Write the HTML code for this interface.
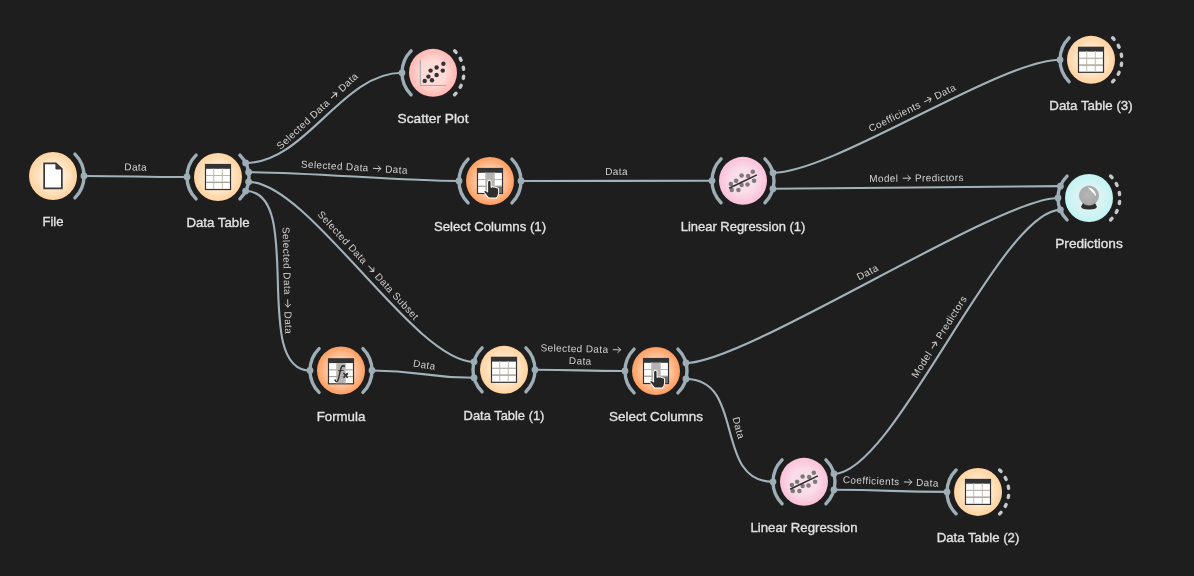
<!DOCTYPE html><html><head><meta charset="utf-8"><style>
html,body{margin:0;padding:0;background:#1e1e1e;width:1194px;height:576px;overflow:hidden}
svg{display:block;will-change:transform}
text{font-family:"Liberation Sans",sans-serif}
</style></head><body>
<svg width="1194" height="576" viewBox="0 0 1194 576">
<defs>
<radialGradient id="g_data" cx="0.5" cy="0.5" r="0.5"><stop offset="0" stop-color="#FFE9CF"/><stop offset="0.5" stop-color="#FFE9CF"/><stop offset="1" stop-color="#FFD39F"/></radialGradient>
<radialGradient id="g_trans" cx="0.5" cy="0.5" r="0.5"><stop offset="0" stop-color="#FFCEAF"/><stop offset="0.5" stop-color="#FFCEAF"/><stop offset="1" stop-color="#FF9D5E"/></radialGradient>
<radialGradient id="g_vis" cx="0.5" cy="0.5" r="0.5"><stop offset="0" stop-color="#FFDBD8"/><stop offset="0.5" stop-color="#FFDBD8"/><stop offset="1" stop-color="#FFB7B1"/></radialGradient>
<radialGradient id="g_model" cx="0.5" cy="0.5" r="0.5"><stop offset="0" stop-color="#FADDE9"/><stop offset="0.5" stop-color="#FADDE9"/><stop offset="1" stop-color="#FAC1D9"/></radialGradient>
<radialGradient id="g_eval" cx="0.5" cy="0.5" r="0.5"><stop offset="0" stop-color="#DBF3F3"/><stop offset="0.5" stop-color="#DBF3F3"/><stop offset="1" stop-color="#C3F3F3"/></radialGradient>
<radialGradient id="ball" cx="0.45" cy="0.45" r="0.55"><stop offset="0" stop-color="#b6b6b6"/><stop offset="1" stop-color="#a8a8a8"/></radialGradient>
<g id="i_file"><path d="M-8.85,-12.55 L2.9,-12.55 L8.85,-7.1 L8.85,12.45 L-8.85,12.45 Z" fill="#fff" stroke="#3a3a3a" stroke-width="1.7" stroke-linejoin="miter"/>
<path d="M2.4,-13.2 L9.5,-6.6 L3.2,-6.6 Q2.4,-6.6 2.4,-7.4 Z" fill="#3a3a3a"/></g>
<g id="i_table"><rect x="-13.1" y="-13.1" width="26.2" height="26.2" fill="#333"/>
<rect x="-11.9" y="-8.2" width="23.8" height="20.1" fill="#fff"/>
<path d="M-4.4,-8.2V12M4.4,-8.2V12" stroke="#cdc7bd" stroke-width="1.1" fill="none"/>
<path d="M-11.9,-1.5H11.9" stroke="#bab5ad" stroke-width="1.0" fill="none"/>
<path d="M-11.9,5.3H11.9" stroke="#a6a29b" stroke-width="1.0" fill="none"/>
<path d="M-4.4,-8.2V12M4.4,-8.2V12" stroke="#cdc7bd" stroke-width="1.1" fill="none"/>
<path d="M-11.9,-1.5H11.9" stroke="#bab5ad" stroke-width="1.0" fill="none"/>
<path d="M-11.9,5.3H11.9" stroke="#a6a29b" stroke-width="1.0" fill="none"/></g>
<g id="i_select"><rect x="-13.1" y="-13.1" width="26.2" height="26.2" fill="#333"/>
<rect x="-11.9" y="-8.2" width="23.8" height="20.1" fill="#fff"/>
<rect x="-4.4" y="-8.2" width="8.8" height="20.1" fill="#b3b3b3"/>
<rect x="4.4" y="5.2" width="7.5" height="6.9" fill="#6e6e6e"/>
<path d="M-4.4,-8.2V12M4.4,-8.2V12" stroke="#cdc7bd" stroke-width="1.1" fill="none"/>
<path d="M-11.9,-1.5H11.9" stroke="#bab5ad" stroke-width="1.0" fill="none"/>
<path d="M-11.9,5.3H11.9" stroke="#a6a29b" stroke-width="1.0" fill="none"/>
<rect x="4.4" y="5.2" width="7.5" height="6.9" fill="#6e6e6e"/>
<path d="M-4.4,-8.2V12M4.4,-8.2V12" stroke="#cdc7bd" stroke-width="1.1" fill="none"/>
<path d="M-11.9,-1.5H11.9" stroke="#bab5ad" stroke-width="1.0" fill="none"/>
<path d="M-11.9,5.3H11.9" stroke="#a6a29b" stroke-width="1.0" fill="none"/>
<path d="M-2.2,1.2 Q-2.2,-0.8 -0.65,-0.8 Q0.9,-0.8 0.9,1.2 L0.9,5.6 Q2.2,4.6 3.4,5.4 Q4.8,4.8 5.6,6 Q7.6,5.8 7.6,7.8 L7.6,10.6 Q7.4,13.4 5.6,15 L-1.4,15 Q-3.4,12.4 -5.2,10.2 Q-6,8.8 -4.8,8.4 Q-3.6,8.2 -2.2,9.6 Z" fill="#2e2e2e" stroke="#fff" stroke-width="0.9" stroke-linejoin="round" transform="translate(-0.65,-0.8) scale(1.12) translate(0.65,0.8)"/></g>
<g id="i_formula"><g transform="translate(0,0.8)"><rect x="-13.1" y="-13.1" width="26.2" height="26.2" fill="#333"/>
<rect x="-11.9" y="-8.2" width="23.8" height="20.1" fill="#fff"/>
<rect x="-4.4" y="-8.2" width="8.8" height="20.1" fill="#b3b3b3"/>
<path d="M-4.4,-8.2V12M4.4,-8.2V12" stroke="#cdc7bd" stroke-width="1.1" fill="none"/>
<path d="M-11.9,-1.5H11.9" stroke="#bab5ad" stroke-width="1.0" fill="none"/>
<path d="M-11.9,5.3H11.9" stroke="#a6a29b" stroke-width="1.0" fill="none"/>
<path d="M-5.9,8.7 Q-5.4,10.3 -4,9.6 Q-2.5,8.8 -1.6,3.4 L-0.7,-1.6 Q0.5,-5.8 3.3,-5.3" fill="none" stroke="#2a2a2a" stroke-width="1.05" stroke-linecap="round"/>
<circle cx="-5.6" cy="9" r="0.9" fill="#2a2a2a"/><circle cx="3.4" cy="-5" r="0.9" fill="#2a2a2a"/>
<path d="M-2.5,-1 L2.4,-1" stroke="#2a2a2a" stroke-width="0.95"/>
<path d="M3.1,2.1 L6.8,6.3 M6.8,2.1 L3.1,6.3" stroke="#2a2a2a" stroke-width="1.5"/>
<path d="M-4.4,-8.2V12M4.4,-8.2V12" stroke="#cdc7bd" stroke-width="1.1" fill="none"/>
<path d="M-11.9,-1.5H11.9" stroke="#bab5ad" stroke-width="1.0" fill="none"/>
<path d="M-11.9,5.3H11.9" stroke="#a6a29b" stroke-width="1.0" fill="none"/>
<path d="M-5.2,10.2 Q-3.6,11 -2.6,8 L0.2,-3.6 Q1.2,-6.6 3.2,-5.6" fill="none" stroke="#333" stroke-width="1.1" stroke-linecap="round"/>
<path d="M-2.6,-0.8 L2.6,-0.8" stroke="#333" stroke-width="0.9"/>
<path d="M2.4,1.6 L6.6,6.4 M6.6,1.6 L2.4,6.4" stroke="#333" stroke-width="1.3"/></g></g>
<g id="i_scatter"><path d="M-12.7,-13.1 V12.7 H13.2" fill="none" stroke="#a3abad" stroke-width="1.1"/><circle cx="-8.3" cy="8.1" r="2.2" fill="#333"/><circle cx="-4.6" cy="3.8" r="2.2" fill="#333"/><circle cx="-1.0" cy="7.5" r="2.2" fill="#333"/><circle cx="-2.4" cy="-2.2" r="2.2" fill="#333"/><circle cx="3.6" cy="2.2" r="2.2" fill="#333"/><circle cx="3.6" cy="-5.3" r="2.2" fill="#333"/><circle cx="9.8" cy="-2.2" r="2.2" fill="#333"/><circle cx="10.4" cy="-9.0" r="2.2" fill="#333"/></g>
<g id="i_linreg"><circle cx="-12.1" cy="3.1" r="2.25" fill="#7a7a7a"/><circle cx="-11.25" cy="9.1" r="2.25" fill="#7a7a7a"/><circle cx="-6.9" cy="0" r="2.25" fill="#7a7a7a"/><circle cx="-4.6" cy="9.1" r="2.25" fill="#7a7a7a"/><circle cx="-1.4" cy="-5.3" r="2.25" fill="#7a7a7a"/><circle cx="-1.4" cy="4.1" r="2.25" fill="#7a7a7a"/><circle cx="5.1" cy="-4.7" r="2.25" fill="#7a7a7a"/><circle cx="4.5" cy="3.8" r="2.25" fill="#7a7a7a"/><circle cx="9.8" cy="-9.05" r="2.25" fill="#7a7a7a"/><circle cx="11.1" cy="0" r="2.25" fill="#7a7a7a"/><path d="M-13.9,7.5 L13.9,-5.9" stroke="#2e2e2e" stroke-width="1.6"/></g>
<g id="i_pred"><path d="M-6,5 Q0,3 6,5 L7.8,8.4 Q8.2,11.4 0,11.4 Q-8.2,11.4 -7.8,8.4 Z" fill="#2e2e2e"/>
<circle cx="0" cy="-2.4" r="9.7" fill="url(#ball)" stroke="#9c9c9c" stroke-width="0.5"/>
<path d="M-0.9,-10.4 C3,-10.2 7.2,-6.6 7.1,-1.4 C4.6,-4.4 2.2,-7.2 -0.9,-10.2 Z" fill="#fff"/></g>
</defs>
<path d="M84.00,176.00 C135.50,176.00 135.50,177.00 187.00,177.00" fill="none" stroke="#a2b2ba" stroke-width="2.1"/>
<path d="M245.62,162.93 C305.62,162.93 342.00,72.80 402.00,72.80" fill="none" stroke="#a2b2ba" stroke-width="2.1"/>
<path d="M248.62,172.15 C308.62,172.15 399.00,181.00 459.00,181.00" fill="none" stroke="#a2b2ba" stroke-width="2.1"/>
<path d="M248.62,181.85 C308.62,181.85 414.06,361.78 474.06,361.78" fill="none" stroke="#a2b2ba" stroke-width="2.1"/>
<path d="M245.62,191.07 C305.62,191.07 250.00,370.50 310.00,370.50" fill="none" stroke="#a2b2ba" stroke-width="2.1"/>
<path d="M521.00,181.00 C581.00,181.00 652.00,180.80 712.00,180.80" fill="none" stroke="#a2b2ba" stroke-width="2.1"/>
<path d="M772.94,172.78 C832.94,172.78 1000.00,59.80 1060.00,59.80" fill="none" stroke="#a2b2ba" stroke-width="2.1"/>
<path d="M772.94,188.82 C832.94,188.82 1000.36,186.14 1060.36,186.14" fill="none" stroke="#a2b2ba" stroke-width="2.1"/>
<path d="M372.00,370.50 C423.16,370.50 422.90,377.82 474.06,377.82" fill="none" stroke="#a2b2ba" stroke-width="2.1"/>
<path d="M535.00,369.80 C580.00,369.80 580.00,371.00 625.00,371.00" fill="none" stroke="#a2b2ba" stroke-width="2.1"/>
<path d="M685.94,362.98 C745.94,362.98 998.00,198.00 1058.00,198.00" fill="none" stroke="#a2b2ba" stroke-width="2.1"/>
<path d="M685.94,379.02 C745.94,379.02 713.00,481.80 773.00,481.80" fill="none" stroke="#a2b2ba" stroke-width="2.1"/>
<path d="M833.94,473.78 C893.94,473.78 1000.36,209.86 1060.36,209.86" fill="none" stroke="#a2b2ba" stroke-width="2.1"/>
<path d="M833.94,489.82 C890.48,489.82 890.46,491.90 947.00,491.90" fill="none" stroke="#a2b2ba" stroke-width="2.1"/>
<path d="M74.92,154.08 A31,31 0 0 1 74.92,197.92" fill="none" stroke="#9eaeb6" stroke-width="3.4" stroke-linecap="round"/>
<path d="M196.08,155.08 A31,31 0 0 0 196.08,198.92" fill="none" stroke="#9eaeb6" stroke-width="3.4" stroke-linecap="round"/>
<path d="M239.92,155.08 A31,31 0 0 1 239.92,198.92" fill="none" stroke="#9eaeb6" stroke-width="3.4" stroke-linecap="round"/>
<path d="M411.08,50.88 A31,31 0 0 0 411.08,94.72" fill="none" stroke="#9eaeb6" stroke-width="3.4" stroke-linecap="round"/>
<path d="M454.59,50.83 A30.8,30.8 0 0 1 456.07,52.39" fill="none" stroke="#c4c8ca" stroke-width="3.4" stroke-linecap="round"/>
<path d="M460.19,58.34 A30.8,30.8 0 0 1 461.14,60.27" fill="none" stroke="#c4c8ca" stroke-width="3.4" stroke-linecap="round"/>
<path d="M463.28,67.19 A30.8,30.8 0 0 1 463.60,69.31" fill="none" stroke="#c4c8ca" stroke-width="3.4" stroke-linecap="round"/>
<path d="M463.60,76.29 A30.8,30.8 0 0 1 463.28,78.41" fill="none" stroke="#c4c8ca" stroke-width="3.4" stroke-linecap="round"/>
<path d="M461.14,85.33 A30.8,30.8 0 0 1 460.19,87.26" fill="none" stroke="#c4c8ca" stroke-width="3.4" stroke-linecap="round"/>
<path d="M456.07,93.21 A30.8,30.8 0 0 1 454.59,94.77" fill="none" stroke="#c4c8ca" stroke-width="3.4" stroke-linecap="round"/>
<path d="M468.08,159.08 A31,31 0 0 0 468.08,202.92" fill="none" stroke="#9eaeb6" stroke-width="3.4" stroke-linecap="round"/>
<path d="M511.92,159.08 A31,31 0 0 1 511.92,202.92" fill="none" stroke="#9eaeb6" stroke-width="3.4" stroke-linecap="round"/>
<path d="M721.08,158.88 A31,31 0 0 0 721.08,202.72" fill="none" stroke="#9eaeb6" stroke-width="3.4" stroke-linecap="round"/>
<path d="M764.92,158.88 A31,31 0 0 1 764.92,202.72" fill="none" stroke="#9eaeb6" stroke-width="3.4" stroke-linecap="round"/>
<path d="M1069.08,37.88 A31,31 0 0 0 1069.08,81.72" fill="none" stroke="#9eaeb6" stroke-width="3.4" stroke-linecap="round"/>
<path d="M1112.59,37.83 A30.8,30.8 0 0 1 1114.07,39.39" fill="none" stroke="#c4c8ca" stroke-width="3.4" stroke-linecap="round"/>
<path d="M1118.19,45.34 A30.8,30.8 0 0 1 1119.14,47.27" fill="none" stroke="#c4c8ca" stroke-width="3.4" stroke-linecap="round"/>
<path d="M1121.28,54.19 A30.8,30.8 0 0 1 1121.60,56.31" fill="none" stroke="#c4c8ca" stroke-width="3.4" stroke-linecap="round"/>
<path d="M1121.60,63.29 A30.8,30.8 0 0 1 1121.28,65.41" fill="none" stroke="#c4c8ca" stroke-width="3.4" stroke-linecap="round"/>
<path d="M1119.14,72.33 A30.8,30.8 0 0 1 1118.19,74.26" fill="none" stroke="#c4c8ca" stroke-width="3.4" stroke-linecap="round"/>
<path d="M1114.07,80.21 A30.8,30.8 0 0 1 1112.59,81.77" fill="none" stroke="#c4c8ca" stroke-width="3.4" stroke-linecap="round"/>
<path d="M1067.08,176.08 A31,31 0 0 0 1067.08,219.92" fill="none" stroke="#9eaeb6" stroke-width="3.4" stroke-linecap="round"/>
<path d="M1110.59,176.03 A30.8,30.8 0 0 1 1112.07,177.59" fill="none" stroke="#c4c8ca" stroke-width="3.4" stroke-linecap="round"/>
<path d="M1116.19,183.54 A30.8,30.8 0 0 1 1117.14,185.47" fill="none" stroke="#c4c8ca" stroke-width="3.4" stroke-linecap="round"/>
<path d="M1119.28,192.39 A30.8,30.8 0 0 1 1119.60,194.51" fill="none" stroke="#c4c8ca" stroke-width="3.4" stroke-linecap="round"/>
<path d="M1119.60,201.49 A30.8,30.8 0 0 1 1119.28,203.61" fill="none" stroke="#c4c8ca" stroke-width="3.4" stroke-linecap="round"/>
<path d="M1117.14,210.53 A30.8,30.8 0 0 1 1116.19,212.46" fill="none" stroke="#c4c8ca" stroke-width="3.4" stroke-linecap="round"/>
<path d="M1112.07,218.41 A30.8,30.8 0 0 1 1110.59,219.97" fill="none" stroke="#c4c8ca" stroke-width="3.4" stroke-linecap="round"/>
<path d="M319.08,348.58 A31,31 0 0 0 319.08,392.42" fill="none" stroke="#9eaeb6" stroke-width="3.4" stroke-linecap="round"/>
<path d="M362.92,348.58 A31,31 0 0 1 362.92,392.42" fill="none" stroke="#9eaeb6" stroke-width="3.4" stroke-linecap="round"/>
<path d="M482.08,347.88 A31,31 0 0 0 482.08,391.72" fill="none" stroke="#9eaeb6" stroke-width="3.4" stroke-linecap="round"/>
<path d="M525.92,347.88 A31,31 0 0 1 525.92,391.72" fill="none" stroke="#9eaeb6" stroke-width="3.4" stroke-linecap="round"/>
<path d="M634.08,349.08 A31,31 0 0 0 634.08,392.92" fill="none" stroke="#9eaeb6" stroke-width="3.4" stroke-linecap="round"/>
<path d="M677.92,349.08 A31,31 0 0 1 677.92,392.92" fill="none" stroke="#9eaeb6" stroke-width="3.4" stroke-linecap="round"/>
<path d="M782.08,459.88 A31,31 0 0 0 782.08,503.72" fill="none" stroke="#9eaeb6" stroke-width="3.4" stroke-linecap="round"/>
<path d="M825.92,459.88 A31,31 0 0 1 825.92,503.72" fill="none" stroke="#9eaeb6" stroke-width="3.4" stroke-linecap="round"/>
<path d="M956.08,469.98 A31,31 0 0 0 956.08,513.82" fill="none" stroke="#9eaeb6" stroke-width="3.4" stroke-linecap="round"/>
<path d="M999.59,469.93 A30.8,30.8 0 0 1 1001.07,471.49" fill="none" stroke="#c4c8ca" stroke-width="3.4" stroke-linecap="round"/>
<path d="M1005.19,477.44 A30.8,30.8 0 0 1 1006.14,479.37" fill="none" stroke="#c4c8ca" stroke-width="3.4" stroke-linecap="round"/>
<path d="M1008.28,486.29 A30.8,30.8 0 0 1 1008.60,488.41" fill="none" stroke="#c4c8ca" stroke-width="3.4" stroke-linecap="round"/>
<path d="M1008.60,495.39 A30.8,30.8 0 0 1 1008.28,497.51" fill="none" stroke="#c4c8ca" stroke-width="3.4" stroke-linecap="round"/>
<path d="M1006.14,504.43 A30.8,30.8 0 0 1 1005.19,506.36" fill="none" stroke="#c4c8ca" stroke-width="3.4" stroke-linecap="round"/>
<path d="M1001.07,512.31 A30.8,30.8 0 0 1 999.59,513.87" fill="none" stroke="#c4c8ca" stroke-width="3.4" stroke-linecap="round"/>
<circle cx="84.00" cy="176.00" r="3.4" fill="#9eaeb6"/>
<circle cx="187.00" cy="177.00" r="3.4" fill="#9eaeb6"/>
<circle cx="245.62" cy="162.93" r="3.4" fill="#9eaeb6"/>
<circle cx="402.00" cy="72.80" r="3.4" fill="#9eaeb6"/>
<circle cx="248.62" cy="172.15" r="3.4" fill="#9eaeb6"/>
<circle cx="459.00" cy="181.00" r="3.4" fill="#9eaeb6"/>
<circle cx="248.62" cy="181.85" r="3.4" fill="#9eaeb6"/>
<circle cx="474.06" cy="361.78" r="3.4" fill="#9eaeb6"/>
<circle cx="245.62" cy="191.07" r="3.4" fill="#9eaeb6"/>
<circle cx="310.00" cy="370.50" r="3.4" fill="#9eaeb6"/>
<circle cx="521.00" cy="181.00" r="3.4" fill="#9eaeb6"/>
<circle cx="712.00" cy="180.80" r="3.4" fill="#9eaeb6"/>
<circle cx="772.94" cy="172.78" r="3.4" fill="#9eaeb6"/>
<circle cx="1060.00" cy="59.80" r="3.4" fill="#9eaeb6"/>
<circle cx="772.94" cy="188.82" r="3.4" fill="#9eaeb6"/>
<circle cx="1060.36" cy="186.14" r="3.4" fill="#9eaeb6"/>
<circle cx="372.00" cy="370.50" r="3.4" fill="#9eaeb6"/>
<circle cx="474.06" cy="377.82" r="3.4" fill="#9eaeb6"/>
<circle cx="535.00" cy="369.80" r="3.4" fill="#9eaeb6"/>
<circle cx="625.00" cy="371.00" r="3.4" fill="#9eaeb6"/>
<circle cx="685.94" cy="362.98" r="3.4" fill="#9eaeb6"/>
<circle cx="1058.00" cy="198.00" r="3.4" fill="#9eaeb6"/>
<circle cx="685.94" cy="379.02" r="3.4" fill="#9eaeb6"/>
<circle cx="773.00" cy="481.80" r="3.4" fill="#9eaeb6"/>
<circle cx="833.94" cy="473.78" r="3.4" fill="#9eaeb6"/>
<circle cx="1060.36" cy="209.86" r="3.4" fill="#9eaeb6"/>
<circle cx="833.94" cy="489.82" r="3.4" fill="#9eaeb6"/>
<circle cx="947.00" cy="491.90" r="3.4" fill="#9eaeb6"/>
<circle cx="53" cy="176" r="24" fill="url(#g_data)"/>
<use href="#i_file" transform="translate(53,176)"/>
<text x="53" y="226" font-size="13.5" fill="#e2e2e2" stroke="#e2e2e2" stroke-width="0.35" text-anchor="middle" textLength="21.1" lengthAdjust="spacingAndGlyphs">File</text>
<circle cx="218" cy="177" r="24" fill="url(#g_data)"/>
<use href="#i_table" transform="translate(218,177)"/>
<text x="218" y="227" font-size="13.5" fill="#e2e2e2" stroke="#e2e2e2" stroke-width="0.35" text-anchor="middle" textLength="63.099999999999994" lengthAdjust="spacingAndGlyphs">Data Table</text>
<circle cx="433" cy="72.8" r="24" fill="url(#g_vis)"/>
<use href="#i_scatter" transform="translate(433,72.8)"/>
<text x="433" y="122.8" font-size="13.5" fill="#e2e2e2" stroke="#e2e2e2" stroke-width="0.35" text-anchor="middle" textLength="70.89999999999999" lengthAdjust="spacingAndGlyphs">Scatter Plot</text>
<circle cx="490" cy="181" r="24" fill="url(#g_trans)"/>
<use href="#i_select" transform="translate(490,181)"/>
<text x="490" y="231" font-size="13.5" fill="#e2e2e2" stroke="#e2e2e2" stroke-width="0.35" text-anchor="middle" textLength="112.2" lengthAdjust="spacingAndGlyphs">Select Columns (1)</text>
<circle cx="743" cy="180.8" r="24" fill="url(#g_model)"/>
<use href="#i_linreg" transform="translate(743,180.8)"/>
<text x="743" y="230.8" font-size="13.5" fill="#e2e2e2" stroke="#e2e2e2" stroke-width="0.35" text-anchor="middle" textLength="124.5" lengthAdjust="spacingAndGlyphs">Linear Regression (1)</text>
<circle cx="1091" cy="59.8" r="24" fill="url(#g_data)"/>
<use href="#i_table" transform="translate(1091,59.8)"/>
<text x="1091" y="109.8" font-size="13.5" fill="#e2e2e2" stroke="#e2e2e2" stroke-width="0.35" text-anchor="middle" textLength="83.3" lengthAdjust="spacingAndGlyphs">Data Table (3)</text>
<circle cx="1089" cy="198" r="24" fill="url(#g_eval)"/>
<use href="#i_pred" transform="translate(1089,198)"/>
<text x="1089" y="248" font-size="13.5" fill="#e2e2e2" stroke="#e2e2e2" stroke-width="0.35" text-anchor="middle" textLength="67.5" lengthAdjust="spacingAndGlyphs">Predictions</text>
<circle cx="341" cy="370.5" r="24" fill="url(#g_trans)"/>
<use href="#i_formula" transform="translate(341,370.5)"/>
<text x="341" y="420.5" font-size="13.5" fill="#e2e2e2" stroke="#e2e2e2" stroke-width="0.35" text-anchor="middle" textLength="48.599999999999994" lengthAdjust="spacingAndGlyphs">Formula</text>
<circle cx="504" cy="369.8" r="24" fill="url(#g_data)"/>
<use href="#i_table" transform="translate(504,369.8)"/>
<text x="504" y="419.8" font-size="13.5" fill="#e2e2e2" stroke="#e2e2e2" stroke-width="0.35" text-anchor="middle" textLength="80.8" lengthAdjust="spacingAndGlyphs">Data Table (1)</text>
<circle cx="656" cy="371" r="24" fill="url(#g_trans)"/>
<use href="#i_select" transform="translate(656,371)"/>
<text x="656" y="421" font-size="13.5" fill="#e2e2e2" stroke="#e2e2e2" stroke-width="0.35" text-anchor="middle" textLength="93.89999999999999" lengthAdjust="spacingAndGlyphs">Select Columns</text>
<circle cx="804" cy="481.8" r="24" fill="url(#g_model)"/>
<use href="#i_linreg" transform="translate(804,481.8)"/>
<text x="804" y="531.8" font-size="13.5" fill="#e2e2e2" stroke="#e2e2e2" stroke-width="0.35" text-anchor="middle" textLength="107.0" lengthAdjust="spacingAndGlyphs">Linear Regression</text>
<circle cx="978" cy="491.9" r="24" fill="url(#g_data)"/>
<use href="#i_table" transform="translate(978,491.9)"/>
<text x="978" y="541.9" font-size="13.5" fill="#e2e2e2" stroke="#e2e2e2" stroke-width="0.35" text-anchor="middle" textLength="82.6" lengthAdjust="spacingAndGlyphs">Data Table (2)</text>
<g transform="translate(135.50,176.50) rotate(1.11)"><text x="-11.36" y="-6" font-size="10.0" letter-spacing="0.4" fill="#d0d0d0">Data</text></g>
<g transform="translate(323.81,117.86) rotate(-43.08)"><text x="-53.62" y="-6" font-size="10.0" letter-spacing="0.4" fill="#d0d0d0">Selected Data</text><path d="M19.10,-9.40 H26.50 M23.80,-12.10 L26.50,-9.40 L23.80,-6.70" fill="none" stroke="#d0d0d0" stroke-width="0.95" stroke-linecap="round" stroke-linejoin="round"/><text x="30.90" y="-6" font-size="10.0" letter-spacing="0.4" fill="#d0d0d0">Data</text></g>
<g transform="translate(353.81,176.58) rotate(3.37)"><text x="-53.62" y="-6" font-size="10.0" letter-spacing="0.4" fill="#d0d0d0">Selected Data</text><path d="M19.10,-9.40 H26.50 M23.80,-12.10 L26.50,-9.40 L23.80,-6.70" fill="none" stroke="#d0d0d0" stroke-width="0.95" stroke-linecap="round" stroke-linejoin="round"/><text x="30.90" y="-6" font-size="10.0" letter-spacing="0.4" fill="#d0d0d0">Data</text></g>
<g transform="translate(361.34,271.81) rotate(47.40)"><text x="-71.97" y="-6" font-size="10.0" letter-spacing="0.4" fill="#d0d0d0">Selected Data</text><path d="M0.74,-9.40 H8.14 M5.44,-12.10 L8.14,-9.40 L5.44,-6.70" fill="none" stroke="#d0d0d0" stroke-width="0.95" stroke-linecap="round" stroke-linejoin="round"/><text x="12.54" y="-6" font-size="10.0" letter-spacing="0.4" fill="#d0d0d0">Data Subset</text></g>
<g transform="translate(277.81,280.79) rotate(88.60)"><text x="-53.62" y="-6" font-size="10.0" letter-spacing="0.4" fill="#d0d0d0">Selected Data</text><path d="M19.10,-9.40 H26.50 M23.80,-12.10 L26.50,-9.40 L23.80,-6.70" fill="none" stroke="#d0d0d0" stroke-width="0.95" stroke-linecap="round" stroke-linejoin="round"/><text x="30.90" y="-6" font-size="10.0" letter-spacing="0.4" fill="#d0d0d0">Data</text></g>
<g transform="translate(616.50,180.90) rotate(-0.09)"><text x="-11.36" y="-6" font-size="10.0" letter-spacing="0.4" fill="#d0d0d0">Data</text></g>
<g transform="translate(916.47,116.29) rotate(-26.45)"><text x="-48.04" y="-6" font-size="10.0" letter-spacing="0.4" fill="#d0d0d0">Coefficients</text><path d="M13.52,-9.40 H20.92 M18.22,-12.10 L20.92,-9.40 L18.22,-6.70" fill="none" stroke="#d0d0d0" stroke-width="0.95" stroke-linecap="round" stroke-linejoin="round"/><text x="25.32" y="-6" font-size="10.0" letter-spacing="0.4" fill="#d0d0d0">Data</text></g>
<g transform="translate(916.65,187.48) rotate(-0.68)"><text x="-47.37" y="-6" font-size="10.0" letter-spacing="0.4" fill="#d0d0d0">Model</text><path d="M-13.44,-9.40 H-6.04 M-8.74,-12.10 L-6.04,-9.40 L-8.74,-6.70" fill="none" stroke="#d0d0d0" stroke-width="0.95" stroke-linecap="round" stroke-linejoin="round"/><text x="-1.64" y="-6" font-size="10.0" letter-spacing="0.4" fill="#d0d0d0">Predictors</text></g>
<g transform="translate(423.03,374.16) rotate(8.19)"><text x="-11.36" y="-6" font-size="10.0" letter-spacing="0.4" fill="#d0d0d0">Data</text></g>
<g transform="translate(580.00,370.40) rotate(1.53)"><text x="-40.06" y="-18.2" font-size="10.0" letter-spacing="0.4" fill="#d0d0d0">Selected Data</text><path d="M32.66,-21.60 H40.06 M37.36,-24.30 L40.06,-21.60 L37.36,-18.90" fill="none" stroke="#d0d0d0" stroke-width="0.95" stroke-linecap="round" stroke-linejoin="round"/><text x="-11.36" y="-6" font-size="10.0" letter-spacing="0.4" fill="#d0d0d0">Data</text></g>
<g transform="translate(871.97,280.49) rotate(-27.86)"><text x="-11.36" y="-6" font-size="10.0" letter-spacing="0.4" fill="#d0d0d0">Data</text></g>
<g transform="translate(729.47,430.41) rotate(75.25)"><text x="-11.36" y="-6" font-size="10.0" letter-spacing="0.4" fill="#d0d0d0">Data</text></g>
<g transform="translate(947.15,341.82) rotate(-57.77)"><text x="-47.37" y="-6" font-size="10.0" letter-spacing="0.4" fill="#d0d0d0">Model</text><path d="M-13.44,-9.40 H-6.04 M-8.74,-12.10 L-6.04,-9.40 L-8.74,-6.70" fill="none" stroke="#d0d0d0" stroke-width="0.95" stroke-linecap="round" stroke-linejoin="round"/><text x="-1.64" y="-6" font-size="10.0" letter-spacing="0.4" fill="#d0d0d0">Predictors</text></g>
<g transform="translate(890.47,490.86) rotate(2.10)"><text x="-48.04" y="-6" font-size="10.0" letter-spacing="0.4" fill="#d0d0d0">Coefficients</text><path d="M13.52,-9.40 H20.92 M18.22,-12.10 L20.92,-9.40 L18.22,-6.70" fill="none" stroke="#d0d0d0" stroke-width="0.95" stroke-linecap="round" stroke-linejoin="round"/><text x="25.32" y="-6" font-size="10.0" letter-spacing="0.4" fill="#d0d0d0">Data</text></g>
</svg></body></html>
